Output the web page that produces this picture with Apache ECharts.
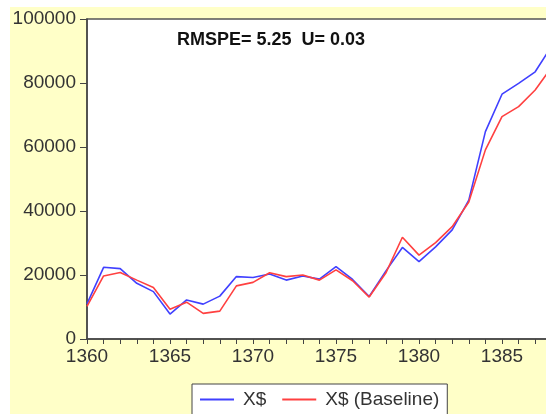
<!DOCTYPE html>
<html>
<head>
<meta charset="utf-8">
<script src="https://cdn.jsdelivr.net/npm/echarts@6/dist/echarts.min.js"></script>
<style>
  html, body { margin: 0; padding: 0; background: #fff; overflow: hidden; }
  #main { width: 620px; height: 414px; }
</style>
</head>
<body>
<div id="main"></div>
<script>
// years on the x axis
var years = [1360, 1361, 1362, 1363, 1364, 1365, 1366, 1367, 1368, 1369,
             1370, 1371, 1372, 1373, 1374, 1375, 1376, 1377, 1378, 1379,
             1380, 1381, 1382, 1383, 1384, 1385, 1386, 1387, 1388];
// X$
var actual = [11000, 22400, 22000, 17400, 14800, 7800, 12200, 10900, 13400, 19500,
              19200, 20300, 18400, 19700, 18700, 22600, 18600, 13300, 21200, 28600,
              24200, 28800, 34100, 43400, 64800, 76500, 79900, 83500, 91600];
// X$ (Baseline)
var baseline = [10200, 19700, 20800, 18400, 16100, 9300, 11500, 8000, 8700, 16600,
                17700, 20700, 19500, 20000, 18400, 21600, 18200, 13100, 20600, 31800,
                26200, 30100, 35100, 42800, 59100, 69500, 72600, 77800, 85000];
var yTicks = [0, 20000, 40000, 60000, 80000, 100000];

function pairs(vals) {
    var out = [];
    for (var i = 0; i < years.length; i++) out.push([years[i], vals[i]]);
    return out;
}

var font = '"Liberation Sans", Arial, sans-serif';
var axisColor = '#444';

var myChart = echarts.init(document.getElementById('main'));
var option = {
    animation: false,
    backgroundColor: '#fff',
    graphic: [
        {
            type: 'rect', z: -10, silent: true,
            shape: { x: 10, y: 7, width: 620, height: 410 },
            style: { fill: '#ffffc8' }
        },
        {
            type: 'text', left: 177, top: 31, z: 10,
            style: { text: 'RMSPE= 5.25  U= 0.03', font: 'bold 18px ' + font, fill: '#111' }
        }
    ],
    grid: {
        left: 87, top: 19, width: 498, height: 320,
        show: true, backgroundColor: '#fff', borderColor: '#555', borderWidth: 1.5
    },
    legend: {
        left: 192, top: 384,
        backgroundColor: '#fff', borderColor: '#444', borderWidth: 1,
        padding: [6, 8, 10, 8],
        itemGap: 16, itemWidth: 34, itemHeight: 2,
        icon: 'rect',
        textStyle: { fontFamily: font, fontSize: 19, color: '#333', padding: [0, 0, 0, 4] },
        data: ['X$', 'X$ (Baseline)']
    },
    xAxis: {
        type: 'value', min: 1360, max: 1390, interval: 1,
        axisLine: { lineStyle: { color: axisColor, width: 1.5 } },
        axisTick: { length: 5, lineStyle: { color: axisColor } },
        splitLine: { show: false },
        axisLabel: {
            margin: 8, fontFamily: font, fontSize: 19, color: '#333',
            formatter: function (v) { return v % 5 === 0 ? String(v) : ''; }
        }
    },
    yAxis: {
        type: 'value', min: yTicks[0], max: yTicks[yTicks.length - 1], interval: 20000,
        axisLine: { show: true, lineStyle: { color: axisColor, width: 1.5 } },
        axisTick: { show: true, length: 7, lineStyle: { color: axisColor } },
        splitLine: { show: false },
        axisLabel: {
            margin: 11, fontFamily: font, fontSize: 19, color: '#333',
            formatter: function (v) { return String(v); }
        }
    },
    series: [
        {
            name: 'X$', type: 'line', data: pairs(actual),
            showSymbol: false, color: '#4040ff',
            lineStyle: { width: 1.6, color: '#4040ff' }
        },
        {
            name: 'X$ (Baseline)', type: 'line', data: pairs(baseline),
            showSymbol: false, color: '#ff4040',
            lineStyle: { width: 1.6, color: '#ff4040' }
        }
    ]
};
myChart.setOption(option);
</script>
</body>
</html>
